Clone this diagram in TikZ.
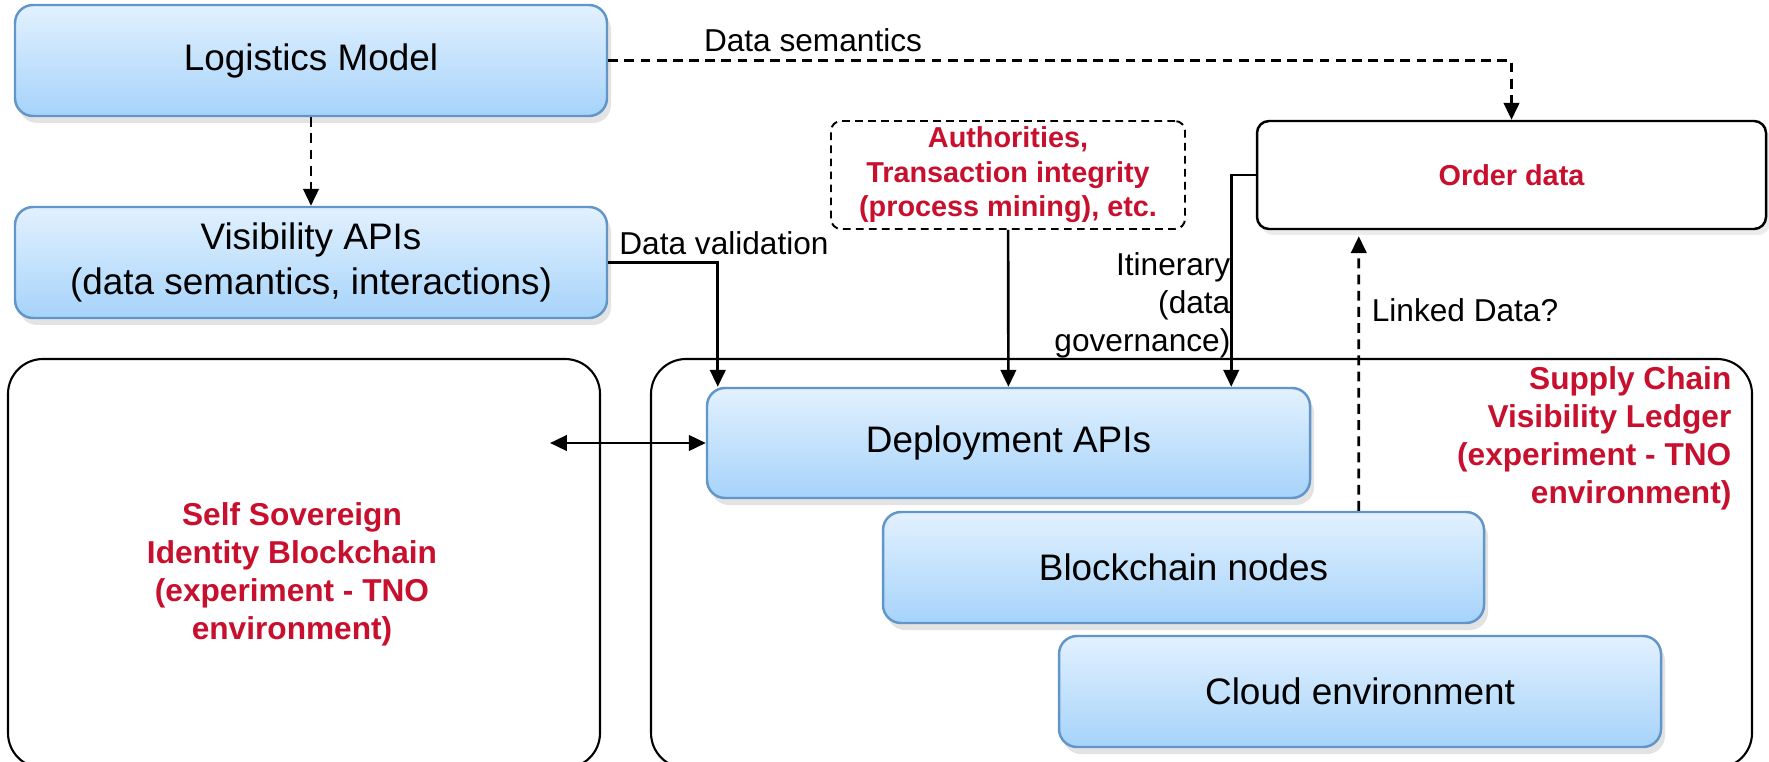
\documentclass[tikz,border=0pt]{standalone}
\usepackage{fontspec}
\setmainfont{Liberation Sans}
\usetikzlibrary{arrows.meta,shadows,calc}
\definecolor{tnored}{RGB}{200,16,46}
\definecolor{boxtop}{RGB}{226,241,254}
\definecolor{boxbot}{RGB}{166,211,250}
\definecolor{boxedge}{RGB}{98,150,200}
\tikzset{
  bluebox/.style={draw=boxedge, line width=0.7pt, rounded corners=1.8mm,
    top color=boxtop, bottom color=boxbot,
    drop shadow={opacity=0.22, shadow xshift=0.4mm, shadow yshift=-0.7mm},
    font=\fontsize{10.5}{12.8}\selectfont, align=center, inner sep=0pt},
  container/.style={draw=black, line width=0.6pt, rounded corners=3.5mm, inner sep=0pt},
  redbig/.style={text=tnored, font=\bfseries\fontsize{9}{10.8}\selectfont, inner sep=0pt},
  redsmall/.style={text=tnored, font=\bfseries\fontsize{8.2}{9.8}\selectfont, inner sep=0pt, align=center},
  lbl/.style={font=\fontsize{9}{10.8}\selectfont, inner sep=0pt},
  conn/.style={line width=0.75pt, -{Triangle[length=4.8pt,width=4.4pt]}},
  dconn/.style={conn, dash pattern=on 2.8pt off 1.8pt},
}
\begin{document}
\begin{tikzpicture}[x=0.1mm,y=-0.1mm]
\clip (0,0) rectangle (1769,762);
\fill[white] (0,0) rectangle (1769,762);

% containers
\node[container, minimum width=59.2mm, minimum height=40.9mm] (ssi) at (304,563.5) {};
\node[container, minimum width=110.1mm, minimum height=40.9mm] (scvl) at (1201.5,563.5) {};
\node[redbig, align=center] (ssitext) at (292,574) {Self Sovereign\\Identity Blockchain\\(experiment - TNO\\environment)};
\node[redbig, align=right, anchor=east] (scvltext) at (1732,438) {Supply Chain\\Visibility Ledger\\(experiment - TNO\\environment)};

% blue boxes
\node[bluebox, minimum width=59.2mm, minimum height=11.1mm] (lm) at (311,60.5) {Logistics Model};
\node[bluebox, minimum width=59.2mm, minimum height=11.1mm] (vapi) at (311,262.5) {Visibility APIs\\(data semantics, interactions)};
\node[bluebox, minimum width=60.3mm, minimum height=11.0mm] (dep) at (1008.5,443) {Deployment APIs};
\node[bluebox, minimum width=60.1mm, minimum height=11.1mm] (bcn) at (1183.5,567.5) {Blockchain nodes};
\node[bluebox, minimum width=60.2mm, minimum height=11.1mm] (cloud) at (1360,691.5) {Cloud environment};

% authorities and order data
\node[redsmall, draw=black, line width=0.55pt, dash pattern=on 2.2pt off 1.5pt, rounded corners=1mm,
      minimum width=35.4mm, minimum height=10.8mm] (auth) at (1008,175)
      {Authorities,\\Transaction integrity\\(process mining), etc.};
\node[redsmall, draw=black, line width=0.7pt, rounded corners=1.2mm, fill=white,
      drop shadow={opacity=0.15, shadow xshift=0.4mm, shadow yshift=-0.6mm},
      minimum width=50.9mm, minimum height=10.8mm] (order) at (1511.5,175) {Order data};

% labels
\node[lbl] (dsem) at (813,40) {Data semantics};
\node[lbl] (dval) at (724,243) {Data validation};
\node[lbl, align=right, anchor=east] (itin) at (1231,305) {Itinerary\\(data\\governance)};
\node[lbl] (ld) at (1465,310) {Linked Data?};

% connectors
\draw[dconn] (lm) -- (vapi);
\draw[dconn] (lm.east) -| (order.north);
\draw[conn] (vapi.east) -| ($(dep.north west)+(12,0)$);
\draw[conn] (auth) -- (dep);
\draw[conn] (order.west) -| ($(dep.north east)+(-80,0)$);
\draw[dconn] ($(bcn.north west)+(477,0)$) -- ($(order.south west)+(103,6)$);
\coordinate (ssiend) at (550,443);
\draw[line width=0.75pt, {Triangle[length=4.8pt,width=4.4pt]}-{Triangle[length=4.8pt,width=4.4pt]}] (ssiend) -- (dep.west);
\end{tikzpicture}
\end{document}
